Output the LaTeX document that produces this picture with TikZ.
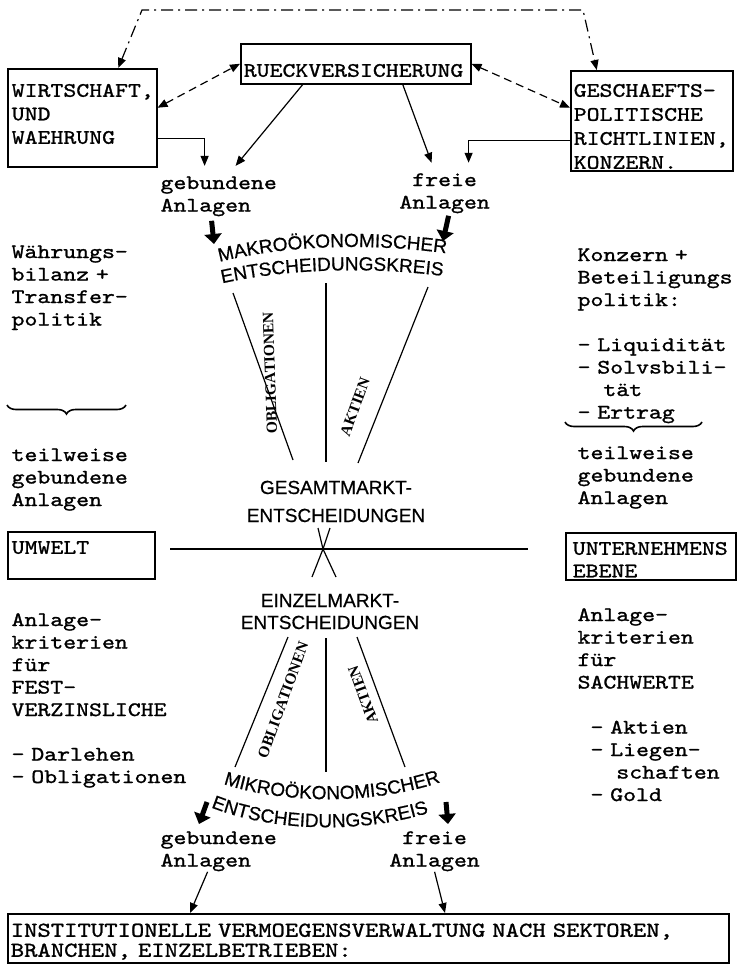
\documentclass[tikz,border=0pt]{standalone}
\usepackage{fontspec}
\usetikzlibrary{arrows.meta,decorations.text,decorations.pathreplacing}
\newfontfamily\typew{lmmono10-regular.otf}[FakeStretch=1.2,FakeBold=1.2]
\newfontfamily\helv[FakeBold=0.6]{Liberation Sans}
\newfontfamily\serifft{Liberation Serif}
\newcommand\arcf{\helv\fontsize{19}{19}\selectfont}

\begin{document}
\begin{tikzpicture}[x=1pt,y=-1pt,line width=1.2pt]
    \tikzstyle{every node}=[inner sep=0pt,font=\typew\fontsize{20.5}{22.5}\selectfont]
    \tikzstyle{txt}=[anchor=base west,align=left]
    \tikzstyle{box}=[draw,line width=1.5pt,anchor=north west,align=left,inner xsep=3pt,inner ysep=2pt]
    \tikzstyle{caps}=[font=\helv\fontsize{19}{28}\selectfont,align=center,anchor=base,text width=220pt]
    \tikzstyle{tag}=[font=\serifft\bfseries\fontsize{15.5}{16}\selectfont]
    \tikzstyle{thin}=[-{Triangle[length=10pt,width=8pt]}]
    \tikzstyle{fat}=[line width=5pt,-{Triangle[length=10pt,width=17pt]}]
    \tikzstyle{dashdotline}=[dash pattern=on 12pt off 5pt on 2pt off 5pt,{Triangle[length=10pt,width=8pt]}-{Triangle[length=10pt,width=8pt]}]
    \tikzstyle{dashline}=[dash pattern=on 8pt off 5pt,{Triangle[length=10pt,width=8pt]}-{Triangle[length=10pt,width=8pt]}]
    \tikzstyle{bracel}=[decorate,decoration={brace,mirror,amplitude=9pt},line width=1.6pt]
    \useasboundingbox (0,0) rectangle (737,964);

    % boxes
    \node[box,text width=141pt,inner xsep=4pt,text height=26pt,text depth=68pt,
      font=\typew\fontsize{20.5}{23.5}\selectfont] (wirt) at (7,68) {WIRTSCHAFT,\\UND\\WAEHRUNG};
    \node[box,text width=224pt,text height=31pt,text depth=5pt] (rueck) at (240,43) {RUECKVERSICHERUNG};
    \node[box,text width=156pt,text height=24pt,text depth=72pt,
      font=\typew\fontsize{20.5}{24}\selectfont] (gesch) at (570,70) {GESCHAEFTS-\\POLITISCHE\\RICHTLINIEN,\\KONZERN.};
    \node[box,text width=139pt,inner xsep=4pt,text height=20pt,text depth=23pt] (umwelt) at (7,531) {UMWELT};
    \node[box,text width=156pt,inner xsep=7pt,text height=20pt,text depth=23pt] (unter) at (565,532) {UNTERNEHMENS\\EBENE};
    \node[box,text width=715pt,text height=21pt,text depth=24pt,
      font=\typew\fontsize{21.2}{20}\selectfont] (inst) at (7,913)
      {INSTITUTIONELLE VERMOEGENSVERWALTUNG NACH SEKTOREN,\\BRANCHEN, EINZELBETRIEBEN:};

    % texts
    \node[txt,text width=120pt] (geb1) at (160,189) {gebundene\\Anlagen};
    \node[txt,text width=92pt,align=center] (frei1) at (398,186) {freie\\Anlagen};
    \node[txt,text width=125pt] (wbil) at (11,258) {Währungs-\\bilanz +\\Transfer-\\politik};
    \node[txt,text width=158pt] (kpol) at (577,261) {Konzern +\\Beteiligungs\\politik:\\[22.5pt]- Liquidität\\- Solvsbili-\\\phantom{--}tät\\- Ertrag};
    \node[txt,text width=125pt] (teill) at (11,461) {teilweise\\gebundene\\Anlagen};
    \node[txt,text width=125pt] (teilr) at (577,459) {teilweise\\gebundene\\Anlagen};
    \node[txt,text width=190pt] (fest) at (11,626) {Anlage-\\kriterien\\für\\FEST-\\VERZINSLICHE\\[22pt]- Darlehen\\- Obligationen};
    \node[txt,text width=155pt] (sach) at (577,621) {Anlage-\\kriterien\\für\\SACHWERTE\\[22.5pt]\phantom{-}- Aktien\\\phantom{-}- Liegen-\\\phantom{---}schaften\\\phantom{-}- Gold};
    \node[txt,text width=120pt] (geb2) at (160,844) {gebundene\\Anlagen};
    \node[txt,text width=92pt,align=center] (frei2) at (388,844) {freie\\Anlagen};
    \node[caps] (gesamt) at (336,494) {GESAMTMARKT-\\ENTSCHEIDUNGEN};
    \node[caps,font=\helv\fontsize{19}{22}\selectfont] (einzel) at (330,607) {EINZELMARKT-\\ENTSCHEIDUNGEN};
    \node[tag,rotate=92] (obl1) at (270,373) {OBLIGATIONEN};
    \node[tag,rotate=70] (akt1) at (355,407) {AKTIEN};
    \node[tag,rotate=70] (obl2) at (283,700) {OBLIGATIONEN};
    \node[tag,rotate=110] (akt2) at (363,695) {AKTIEN};

    % curved headings
    \path[decorate,decoration={text along path,text align=center,text={|\arcf|MAKROÖKONOMISCHER}}]
      (208,265) .. controls (285,243) and (380,243) .. (458,255);
    \path[decorate,decoration={text along path,text align=center,text={|\arcf|ENTSCHEIDUNGSKREIS}}]
      (215,285) .. controls (290,267) and (380,267) .. (450,277);
    \path[decorate,decoration={text along path,text align=center,text={|\arcf|MIKROÖKONOMISCHER}}]
      (212,780) .. controls (280,806) and (380,806) .. (452,778);
    \path[decorate,decoration={text along path,text align=center,text={|\arcf|ENTSCHEIDUNGSKREIS}}]
      (203,804) .. controls (270,834) and (370,834) .. (437,810);

    % free ends
    \coordinate (dl) at (142,10);
    \coordinate (dr) at (583,10);
    \coordinate (m1) at (233,293);
    \coordinate (m2) at (326,283);
    \coordinate (m3) at (428,287);
    \coordinate (g1) at (293,460);
    \coordinate (g2) at (326,462);
    \coordinate (g3) at (358,463);
    \coordinate (e1) at (288,637);
    \coordinate (e2) at (326,638);
    \coordinate (e3) at (357,637);
    \coordinate (k1) at (235,767);
    \coordinate (k2) at (326,772);
    \coordinate (k3) at (405,767);
    \coordinate (x) at (323,549);
    \coordinate (hl) at (170,549);
    \coordinate (hr) at (528,549);
    \coordinate (fa1) at (214,244);
    \coordinate (fa2) at (443,241);
    \coordinate (fb1) at (207,802);
    \coordinate (fb2) at (446,802);
    \coordinate (fc1) at (199,824);
    \coordinate (fc2) at (448,824);

    % connectors
    \draw[dashdotline] ([xshift=36pt]wirt.north) -- (dl) -- (dr) -- ([xshift=-55pt]gesch.north);
    \draw[dashline] ([yshift=10pt]wirt.east) -- (rueck.west);
    \draw[dashline] (rueck.east) -- ([yshift=13pt]gesch.west);
    \draw[thin] ([yshift=-21pt]wirt.east) -| ([xshift=-16pt,yshift=10pt]geb1.north);
    \draw[thin] ([xshift=-53pt]rueck.south) -- ([xshift=15pt,yshift=10pt]geb1.north);
    \draw[thin] ([xshift=47pt]rueck.south) -- ([xshift=-13pt,yshift=10pt]frei1.north);
    \draw[thin] ([yshift=-20pt]gesch.west) -| ([xshift=24pt,yshift=10pt]frei1.north);
    \draw[fat] ([xshift=-9pt,yshift=-4pt]geb1.south) -- (fa1);
    \draw[fat] ([xshift=4pt,yshift=-2pt]frei1.south) -- (fa2);
    \draw (m1) -- (g1);
    \draw (m2) -- (g2);
    \draw (m3) -- (g3);
    \draw (hl) -- (hr);
    \draw (x) ++(-5,-21) -- (x) -- ++(-11,28);
    \draw (x) ++(7,-21) -- (x) -- ++(13,28);
    \draw (e1) -- (k1);
    \draw (e2) -- (k2);
    \draw (e3) -- (k3);
    \draw[fat] (fb1) -- (fc1);
    \draw[fat] (fb2) -- (fc2);
    \draw[thin] ([xshift=-13pt]geb2.south) -- ([xshift=183pt]inst.north west);
    \draw[thin] (frei2.south) -- ([xshift=438pt]inst.north west);

    % braces
    \draw[bracel] (7,405) -- (126,405);
    \draw[bracel] (565,422) -- (702,422);
\end{tikzpicture}
\end{document}
